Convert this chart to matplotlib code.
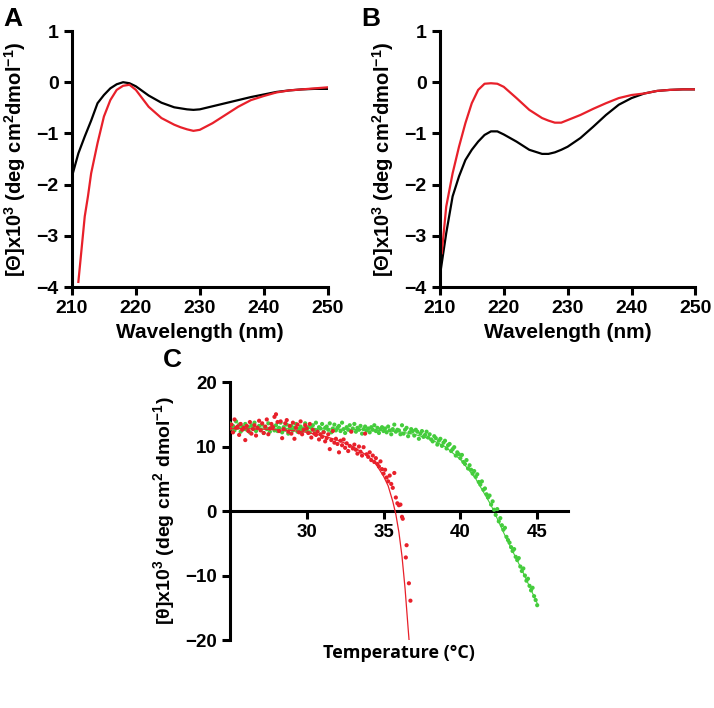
import numpy as np
import matplotlib
matplotlib.use('Agg')
import matplotlib.pyplot as plt

plt.rcParams['font.family'] = ['Liberation Sans', 'DejaVu Sans']
plt.rcParams['font.weight'] = 'bold'
plt.rcParams['mathtext.fontset'] = 'custom'
plt.rcParams['mathtext.rm'] = 'Liberation Sans:bold'
plt.rcParams['mathtext.it'] = 'Liberation Sans:bold'
plt.rcParams['mathtext.bf'] = 'Liberation Sans:bold'

# --- panel A / B : CD spectra (wavelength, nm) ---
wl = [210, 211, 212, 213, 214, 215, 216, 217, 218, 219, 220, 222, 224, 226, 227,
      228, 229, 230, 232, 234, 236, 238, 240, 242, 244, 246, 248, 250]
a_black = [-1.84, -1.39, -1.06, -0.75, -0.41, -0.25, -0.12, -0.04, 0.0, -0.02, -0.08,
           -0.26, -0.40, -0.49, -0.51, -0.53, -0.54, -0.53, -0.47, -0.41, -0.35,
           -0.29, -0.24, -0.19, -0.16, -0.14, -0.13, -0.13]
a_red_wl = [211, 212, 212.5, 213, 214, 215, 216, 217, 218, 219, 220, 222, 224, 226, 227,
            228, 229, 230, 232, 234, 236, 238, 240, 242, 244, 246, 248, 250]
a_red = [-3.9, -2.62, -2.23, -1.78, -1.19, -0.67, -0.35, -0.15, -0.07, -0.05, -0.15,
         -0.48, -0.70, -0.83, -0.88, -0.92, -0.95, -0.93, -0.80, -0.64, -0.48,
         -0.35, -0.27, -0.20, -0.16, -0.14, -0.12, -0.10]

b_red_wl = [210.3, 211, 212, 213, 214, 215, 216, 217, 218, 219, 220, 222, 224, 226, 227,
            228, 229, 230, 232, 234, 236, 238, 240, 242, 244, 246, 248, 250]
b_red = [-3.34, -2.43, -1.78, -1.26, -0.80, -0.41, -0.15, -0.03, -0.02, -0.03, -0.09,
         -0.31, -0.54, -0.70, -0.75, -0.79, -0.79, -0.74, -0.64, -0.52, -0.41,
         -0.31, -0.25, -0.22, -0.17, -0.15, -0.14, -0.14]
b_black = [-3.79, -2.95, -2.23, -1.84, -1.52, -1.32, -1.16, -1.03, -0.96, -0.96, -1.02,
           -1.16, -1.32, -1.40, -1.40, -1.37, -1.32, -1.26, -1.09, -0.87, -0.64,
           -0.44, -0.31, -0.22, -0.17, -0.15, -0.14, -0.14]

# --- panel C : thermal melt (temperature grid 0.1 C) ---
red_T = np.round(np.arange(25.0, 36.05, 0.1), 1)
red_y = [12.8, 13.4, 12.2, 14.2, 12.9, 13.1, 11.8, 13.5, 12.6, 12.9,
         11.0, 13.2, 12.4, 13.8, 12.0, 12.7, 13.3, 11.7, 12.9, 14.0,
         12.5, 13.6, 12.1, 13.1, 14.2, 11.9, 12.8, 13.5, 13.0, 14.6,
         15.0, 13.8, 12.4, 13.9, 11.3, 12.7, 13.6, 14.1, 12.3, 13.2,
         12.0, 13.7, 11.2, 12.9, 13.4, 12.2, 13.9, 11.9, 12.6, 13.3,
         12.8, 12.1, 13.5, 11.4, 12.6, 12.0, 11.8, 12.3, 11.1, 11.9,
         11.5, 12.2, 10.8, 11.3, 11.9, 9.6, 11.0, 12.4, 10.6, 11.2,
         10.4, 9.1, 10.9, 10.2, 11.1, 9.8, 10.5, 9.3, 10.1, 12.3,
         9.7, 10.3, 9.5, 8.9, 10.0, 9.2, 8.6, 9.9, 12.0, 8.8,
         8.4, 9.1, 7.9, 8.6, 7.6, 8.2, 7.3, 6.9, 7.7, 6.5,
         5.8, 6.4, 5.2, 4.6, 5.5, 4.2, 3.6, 5.9, 2.1, 1.2,
         0.9]
red_tail_T = [36.1, 36.2, 36.25, 36.5, 36.45, 36.65, 36.75]
red_tail_y = [1.0, -0.9, -1.2, -5.3, -7.2, -11.2, -13.9]

green_T = np.round(np.arange(25.0, 45.05, 0.1), 1)
green_y = [13.6, 12.8, 13.2, 12.5, 13.9, 12.9, 13.4, 12.3, 13.1, 12.7,
           13.5, 12.6, 13.0, 12.2, 13.3, 12.8, 13.7, 12.4, 12.9, 13.2,
           12.6, 13.4, 12.1, 13.0, 12.7, 13.6, 12.3, 12.9, 13.1, 12.5,
           13.3, 12.4, 12.9, 13.7, 12.2, 13.0, 12.6, 13.4, 12.0, 12.8,
           13.2, 12.5, 12.9, 13.5, 12.3, 12.7, 13.1, 12.4, 12.8, 13.6,
           12.5, 13.0, 12.2, 12.9, 13.3, 12.6, 13.7, 12.4, 13.0, 12.8,
           13.5, 12.3, 12.9, 13.1, 12.6, 13.6, 12.2, 12.8, 13.4, 12.5,
           12.9, 13.2, 12.4, 13.7, 12.7, 12.1, 13.0, 12.6, 13.3, 12.4,
           12.8, 13.5, 12.3, 12.9, 12.6, 13.2, 12.0, 12.7, 13.1, 12.5,
           12.8, 12.2, 13.0, 12.6, 13.3, 12.4, 12.9, 12.1, 12.7, 13.0,
           12.4, 12.8, 12.2, 13.1, 12.5, 11.9, 12.7, 13.4, 12.3, 12.6,
           12.5, 11.9, 13.3, 12.0, 12.6, 12.9, 11.6, 12.2, 12.7, 12.4,
           11.7, 12.6, 12.3, 11.2, 12.0, 12.4, 11.5, 11.8, 12.3, 11.4,
           11.9, 11.1, 10.8, 11.6, 11.3, 10.3, 10.9, 11.2, 10.1, 10.6,
           10.9, 9.7, 10.2, 10.4, 9.3, 9.6, 9.9, 8.6, 9.1, 8.8,
           8.2, 8.7, 7.6, 7.3, 7.9, 6.6, 7.1, 6.4, 5.8, 6.2,
           5.3, 5.7, 4.5, 4.1, 4.6, 3.3, 3.5, 2.6, 2.1, 2.4,
           1.0, 1.5, 0.2, -0.6, 0.3, -1.6, -1.1, -2.2, -2.9, -2.6,
           -4.0, -4.5, -4.9, -5.6, -6.2, -5.9, -7.1, -7.6, -7.3, -8.6,
           -9.3, -8.9, -10.0, -10.8, -10.5, -11.6, -12.3, -11.9, -13.2, -13.8,
           -14.6]

red_fit_T = [25, 27, 29, 30, 31, 32, 33, 34, 34.5, 35, 35.3, 35.6, 35.8, 36.0, 36.2, 36.4, 36.6, 36.66]
red_fit_y = [12.8, 12.7, 12.5, 12.2, 11.7, 11.0, 10.0, 8.5, 7.3, 5.4, 3.9, 1.5, -0.5, -3.3, -7.0, -12.0, -18.2, -20.0]
green_fit_T = [25, 30, 34, 36, 37, 38, 39, 40, 41, 42, 43, 44, 45]
green_fit_y = [12.9, 12.8, 12.6, 12.3, 11.9, 11.2, 10.0, 8.0, 5.0, 0.9, -4.3, -9.1, -14.3]

RED = '#e8202a'
GREEN = '#44cc3c'

fig = plt.figure(figsize=(7.14, 7.08), dpi=100)

ylab_ab = r'[$\Theta$]x10$^3$ (deg cm$^2$dmol$^{-1}$)'


def style_ax(ax, size):
    for s in ['top', 'right']:
        ax.spines[s].set_visible(False)
    for s in ['left', 'bottom']:
        ax.spines[s].set_linewidth(2.2)
    ax.tick_params(width=2.2, length=6, labelsize=size, direction='out')
    for lab in ax.get_xticklabels() + ax.get_yticklabels():
        lab.set_fontweight('bold')


for left, px, panel, curves in [(0.1008, 0.004, 'A', [(wl, a_black, 'black'), (a_red_wl, a_red, RED)]),
                                (0.616, 0.506, 'B', [(wl, b_black, 'black'), (b_red_wl, b_red, RED)])]:
    ax = fig.add_axes([left, 0.5946, 0.358, 0.3616])
    for x, y, c in curves:
        ax.plot(x, y, color=c, lw=1.6)
    ax.set_xlim(210, 250)
    ax.set_ylim(-4, 1)
    ax.set_xticks([210, 220, 230, 240, 250])
    ax.set_yticks([-4, -3, -2, -1, 0, 1])
    style_ax(ax, 14)
    ax.set_xlabel('Wavelength (nm)', fontsize=15, fontweight='bold', labelpad=4)
    ax.set_ylabel(ylab_ab, fontsize=14.5, fontweight='bold', labelpad=6)
    fig.text(px, 0.99, panel, fontsize=19, fontweight='bold', va='top')

axc = fig.add_axes([0.322, 0.096, 0.4734, 0.3644])
axc.plot(green_fit_T, green_fit_y, color=GREEN, lw=0.8, zorder=2)
axc.scatter(green_T, green_y, s=9, color=GREEN, edgecolors='none', zorder=3)
axc.scatter(red_T, red_y, s=9, color=RED, edgecolors='none', zorder=4)
axc.scatter(red_tail_T, red_tail_y, s=9, color=RED, edgecolors='none', zorder=4)
axc.plot(red_fit_T, red_fit_y, color=RED, lw=0.9, zorder=5)
axc.set_xlim(25, 47)
axc.set_ylim(-20, 20)
axc.set_xticks([30, 35, 40, 45])
axc.set_yticks([-20, -10, 0, 10, 20])
style_ax(axc, 13.5)
axc.spines['bottom'].set_position(('data', 0))
axc.set_ylabel(r'[$\theta$]x10$^3$ (deg cm$^2$ dmol$^{-1}$)', fontsize=14, fontweight='bold', labelpad=6)
axc.text(0.5, -0.015, 'Temperature (°C)', transform=axc.transAxes, ha='center', va='top',
         fontsize=13, fontweight='bold', family=['Open Sans', 'DejaVu Sans'])
fig.text(0.228, 0.508, 'C', fontsize=19, fontweight='bold', va='top')

fig.savefig('out.png', dpi=100)
